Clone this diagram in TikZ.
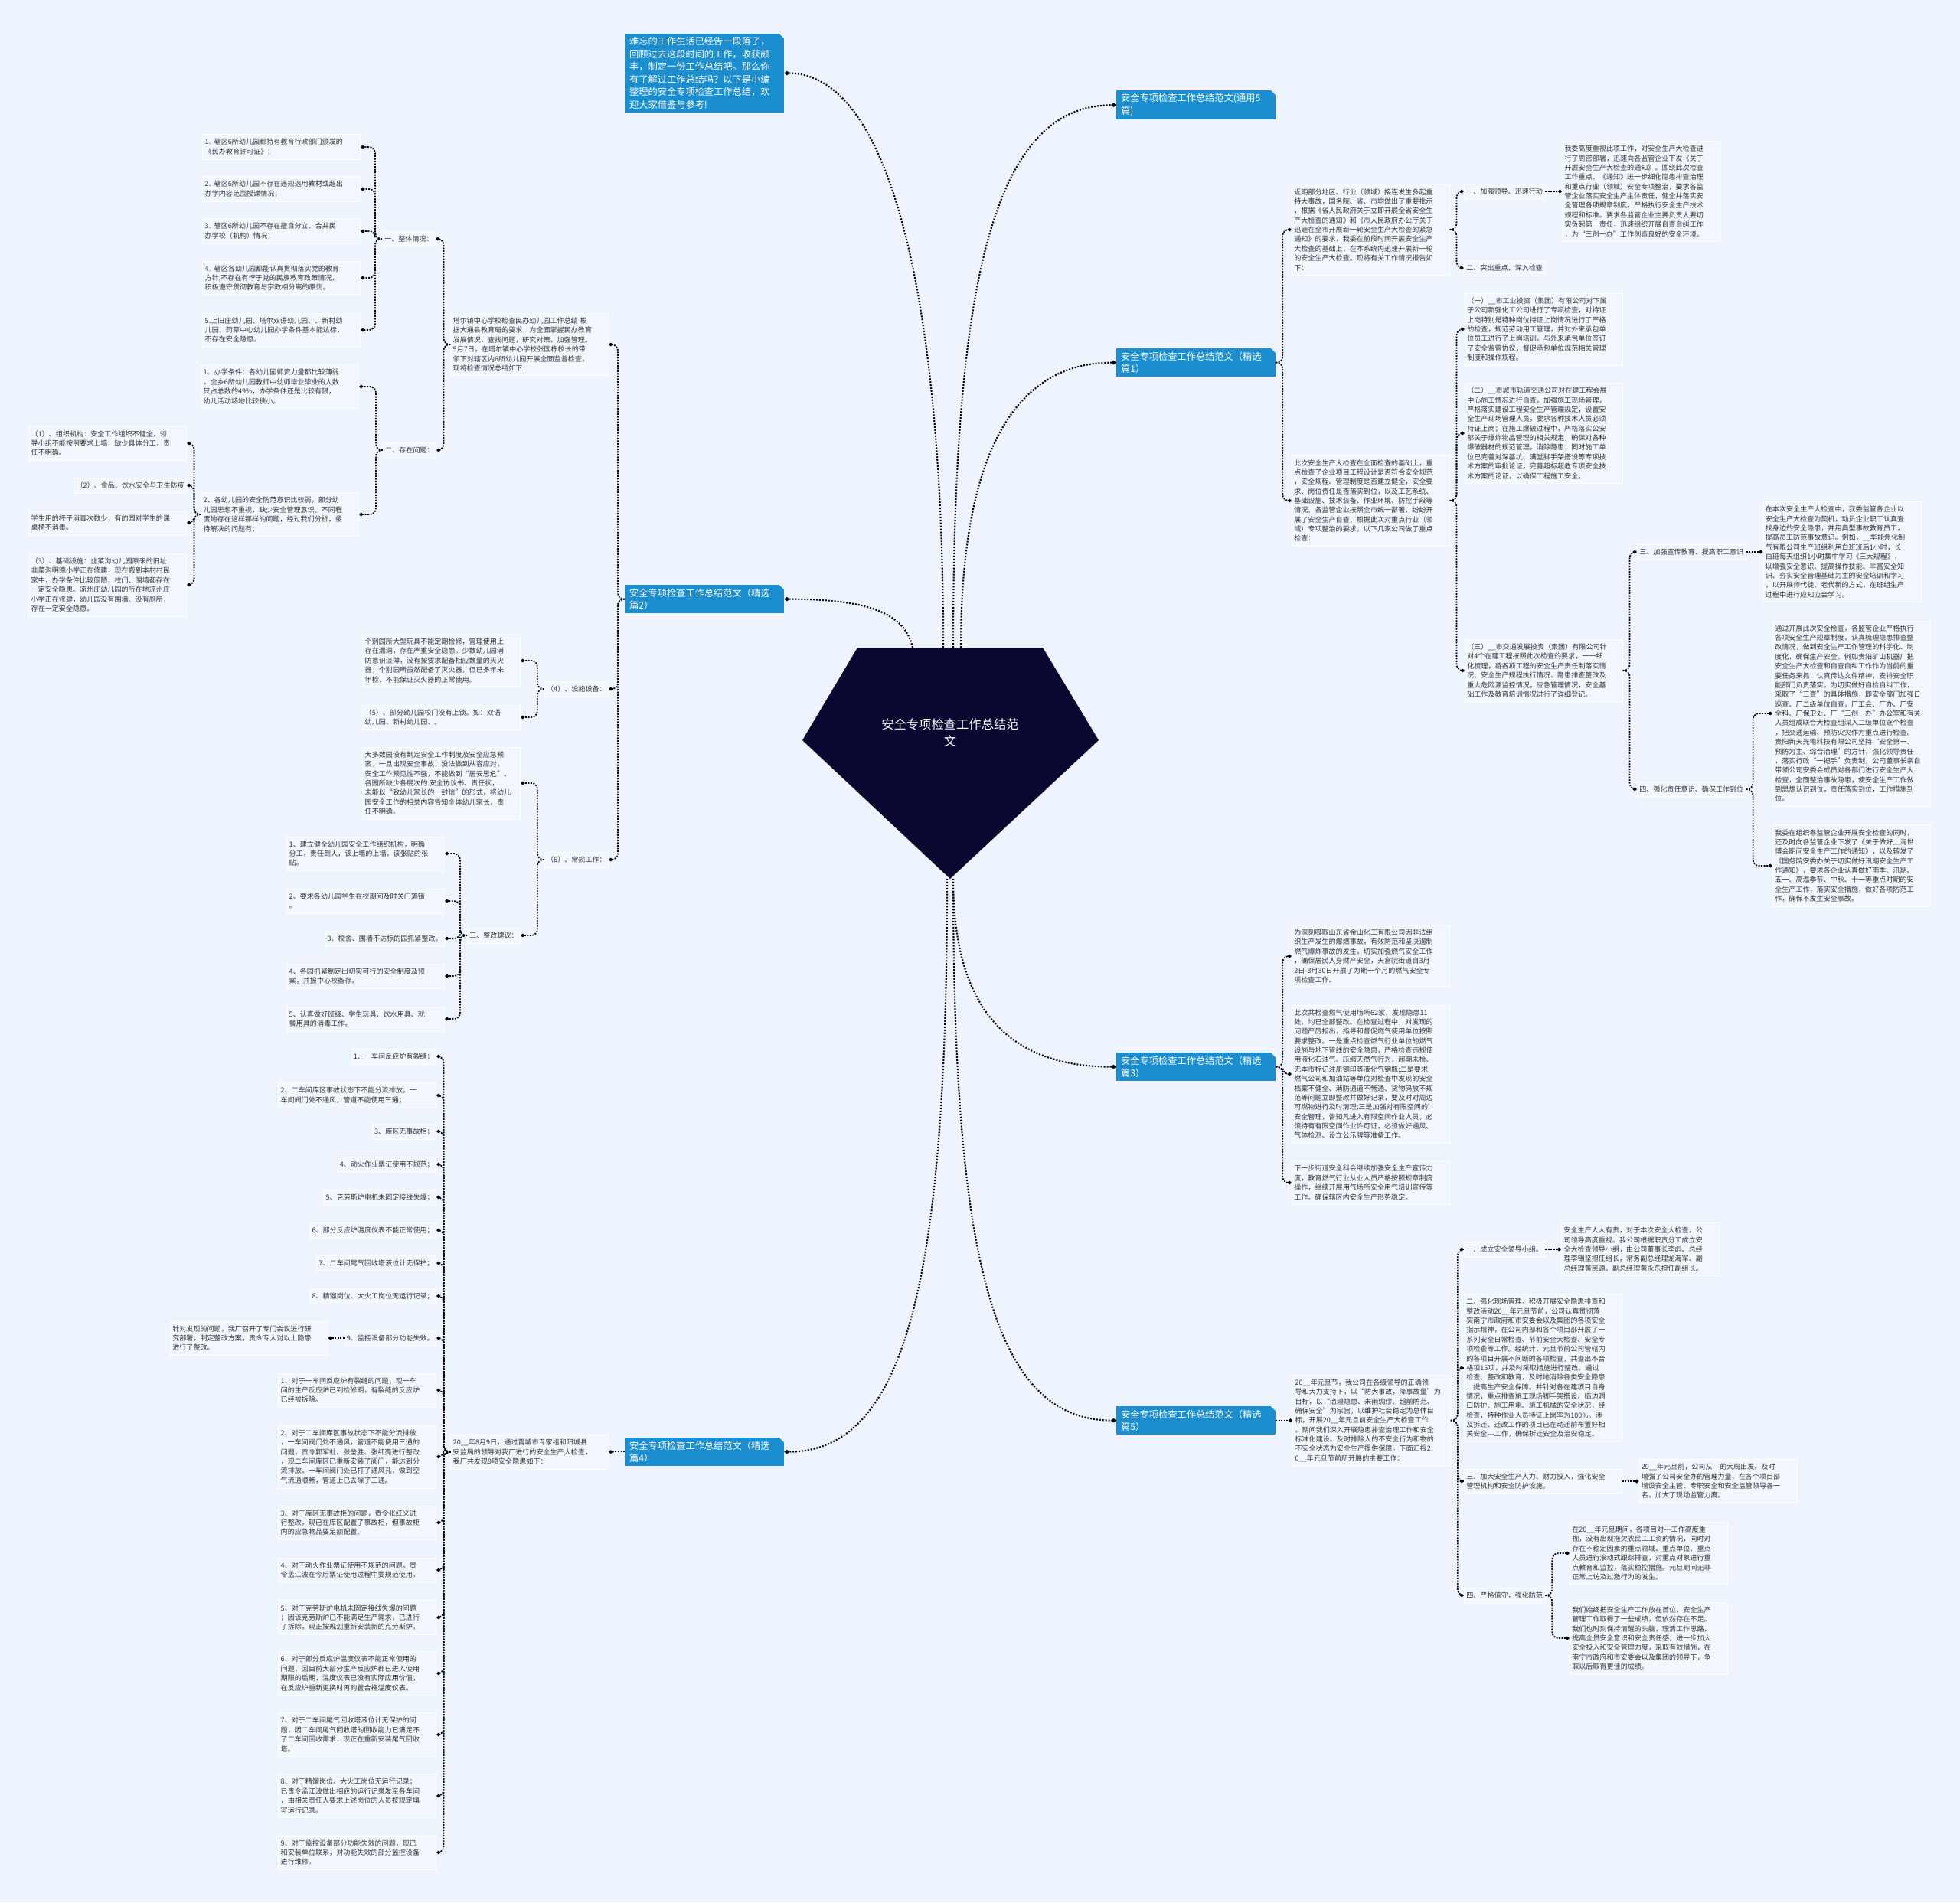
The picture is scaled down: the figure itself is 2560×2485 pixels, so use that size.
\documentclass[tikz,border=0pt]{standalone}
\usepackage{fontspec}
\setmainfont{Noto Sans CJK SC}
\usepackage{tikz}
\usetikzlibrary{arrows.meta,positioning}
\definecolor{BgMain}{RGB}{238,244,253}
\definecolor{LeafFill}{RGB}{242,247,254}
\definecolor{TopicBlue}{RGB}{27,142,208}
\definecolor{RootNavy}{RGB}{10,8,48}
\definecolor{TextGray}{RGB}{51,51,51}
\newcommand{\fsleaf}{\fontsize{12.9pt}{17.6pt}\selectfont}
\newcommand{\fstopic}{\fontsize{17.4pt}{23.5pt}\selectfont}
\newcommand{\fsroot}{\fontsize{23.2pt}{32pt}\selectfont}

\begin{document}
\begin{tikzpicture}[
  x=0.05cm, y=-0.05cm,
  topic/.style={
    rectangle, fill=TopicBlue, text=white, font=\fstopic, align=left,
    text width=9.8cm, inner xsep=0.3cm, inner ysep=0.22cm, anchor=north west,
    path picture={\fill[BgMain] ([xshift=-0.3cm]path picture bounding box.north east)
      -- (path picture bounding box.north east)
      -- ([yshift=-0.3cm]path picture bounding box.north east) -- cycle;}
  },
  leaf/.style={
    rectangle, fill=LeafFill, draw=white, line width=0.8pt, text=TextGray,
    font=\fsleaf, align=left, text width=10cm, inner xsep=0.15cm, inner ysep=0.28cm
  },
  tag/.style={
    rectangle, fill=LeafFill, draw=white, line width=0.8pt, text=TextGray,
    font=\fsleaf, align=left, inner xsep=0.15cm, inner ysep=0.28cm
  },
  rootnode/.style={text=white, font=\fsroot, align=center},
  mainlnk/.style={draw=black, line width=3pt, dash pattern=on 2.8pt off 2.8pt,
    -{Diamond[length=10pt,width=8pt]}},
  lnk/.style={draw=black, line width=2.4pt, dash pattern=on 2.8pt off 2.2pt,
    rounded corners=0.4cm, -{Diamond[length=8pt,width=7pt]}}
]

\fill[BgMain] (0,0) rectangle (2560,2485);
\useasboundingbox (0,0) rectangle (2560,2485);

% --- Root
\fill[RootNavy] (1120,846) -- (1362,846) -- (1435,967) -- (1241,1148) -- (1048,967) -- cycle;
\node[rootnode] (root) at (1241,957) {安全专项检查工作总结范\\文};
\coordinate (rt1) at (1192,846);
\coordinate (rt2) at (1232,846);
\coordinate (rt3) at (1245,846);
\coordinate (rt4) at (1255,846);
\coordinate (rb1) at (1237,1148);
\coordinate (rb2) at (1245,1148);

% --- Topics
\node[topic] (intro) at (816,44) {难忘的工作生活已经告一段落了，\\回顾过去这段时间的工作，收获颇\\丰，制定一份工作总结吧。那么你\\有了解过工作总结吗？以下是小编\\整理的安全专项检查工作总结，欢\\迎大家借鉴与参考!};
\node[topic] (t5a) at (1458,118) {安全专项检查工作总结范文(通用5\\篇)};
\node[topic] (t1) at (1458,455) {安全专项检查工作总结范文（精选\\篇1）};
\node[topic] (t2) at (816,764) {安全专项检查工作总结范文（精选\\篇2）};
\node[topic] (t3) at (1458,1375) {安全专项检查工作总结范文（精选\\篇3）};
\node[topic] (t4) at (816,1878) {安全专项检查工作总结范文（精选\\篇4）};
\node[topic] (t5b) at (1458,1837) {安全专项检查工作总结范文（精选\\篇5）};

\draw[mainlnk] (rt2) .. controls +(0,-450) and +(140,0) .. (intro.east);
\draw[mainlnk] (rt3) .. controls +(0,-480) and +(-160,0) .. (t5a.west);
\draw[mainlnk] (rt4) .. controls +(0,-220) and +(-150,0) .. (t1.west);
\draw[mainlnk] (rt1) .. controls +(-10,-45) and +(110,0) .. (t2.east);
\draw[mainlnk] (rb2) .. controls +(0,160) and +(-150,0) .. (t3.west);
\draw[mainlnk] (rb2) .. controls +(0,500) and +(-160,0) .. (t5b.west);
\draw[mainlnk] (rb1) .. controls +(0,520) and +(160,0) .. (t4.east);

% --- Part 2 (left)
\node[leaf, anchor=east] (p2) at (795,450) {塔尔镇中心学校检查民办幼儿园工作总结 根\\据大通县教育局的要求，为全面掌握民办教育\\发展情况，查找问题，研究对策，加强管理。\\5月7日，在塔尔镇中心学校张国栋校长的带\\领下对辖区内6所幼儿园开展全面监督检查，\\现将检查情况总结如下：};
\node[tag, anchor=east] (s21) at (569,312) {一、整体情况：};
\node[leaf, anchor=east] (a1) at (471,192) {1. 辖区6所幼儿园都持有教育行政部门颁发的\\《民办教育许可证》；};
\node[leaf, anchor=east] (a2) at (471,247) {2. 辖区6所幼儿园不存在违规选用教材或超出\\办学内容范围授课情况；};
\node[leaf, anchor=east] (a3) at (471,302) {3. 辖区6所幼儿园不存在擅自分立、合并民\\办学校（机构）情况；};
\node[leaf, anchor=east] (a4) at (471,363) {4. 辖区各幼儿园都能认真贯彻落实党的教育\\方针,不存在有悖于党的民族教育政策情况，\\积极遵守贯彻教育与宗教相分离的原则。};
\node[leaf, anchor=east] (a5) at (471,431) {5.上旧庄幼儿园、塔尔双语幼儿园、、新村幼\\儿园、药草中心幼儿园办学条件基本能达标，\\不存在安全隐患。};
\node[tag, anchor=east] (s22) at (570,588) {二、存在问题：};
\node[leaf, anchor=east] (b1) at (469,505) {1、办学条件：各幼儿园师资力量都比较薄弱\\，全乡6所幼儿园教师中幼师毕业毕业的人数\\只占总数的49\%，办学条件还是比较有限，\\幼儿活动场地比较狭小。};
\node[leaf, anchor=east] (b2) at (469,672) {2、各幼儿园的安全防范意识比较弱，部分幼\\儿园思想不重视，缺少安全管理意识，不同程\\度地存在这样那样的问题，经过我们分析，亟\\待解决的问题有：};
\node[leaf, anchor=east] (c1) at (244,579) {（1）、组织机构：安全工作组织不健全，领\\导小组不能按照要求上墙，缺少具体分工，责\\任不明确。};
\node[tag, anchor=east] (c2) at (244,634) {（2）、食品、饮水安全与卫生防疫};
\node[leaf, anchor=east] (c3) at (244,683) {学生用的杯子消毒次数少；有的园对学生的课\\桌椅不消毒。};
\node[leaf, anchor=east] (c4) at (244,764) {（3）、基础设施：韭菜沟幼儿园原来的旧址\\韭菜沟明德小学正在修建，现在搬到本村村民\\家中，办学条件比较简陋，校门、围墙都存在\\一定安全隐患。凉州庄幼儿园的所在地凉州庄\\小学正在修建，幼儿园没有围墙、没有厕所，\\存在一定安全隐患。};
\node[tag, anchor=east] (s23) at (795,900) {（4）、设施设备：};
\node[leaf, anchor=east] (d1) at (680,863) {个别园所大型玩具不能定期检修，管理使用上\\存在漏洞，存在严重安全隐患。少数幼儿园消\\防意识淡薄，没有按要求配备相应数量的灭火\\器；个别园所虽然配备了灭火器，但已多年未\\年检，不能保证灭火器的正常使用。};
\node[leaf, anchor=east] (d2) at (680,937) {（5）、部分幼儿园校门没有上锁。如：双语\\幼儿园、新村幼儿园、。};
\node[tag, anchor=east] (s24) at (795,1123) {（6）、常规工作：};
\node[leaf, anchor=east] (e1) at (680,1023) {大多数园没有制定安全工作制度及安全应急预\\案，一旦出现安全事故，没法做到从容应对，\\安全工作预见性不强，不能做到“居安思危”。\\各园所缺少各层次的.安全协议书、责任状，\\未能以“致幼儿家长的一封信”的形式，将幼儿\\园安全工作的相关内容告知全体幼儿家长，责\\任不明确。};
\node[tag, anchor=east] (s25) at (680,1222) {三、整改建议：};
\node[leaf, anchor=east] (f1) at (581,1115) {1、建立健全幼儿园安全工作组织机构，明确\\分工，责任到人，该上墙的上墙，该张贴的张\\贴。};
\node[leaf, anchor=east] (f2) at (581,1177) {2、要求各幼儿园学生在校期间及时关门落锁\\。};
\node[tag, anchor=east] (f3) at (581,1226) {3、校舍、围墙不达标的园抓紧整改。};
\node[leaf, anchor=east] (f4) at (581,1275) {4、各园抓紧制定出切实可行的安全制度及预\\案，并报中心校备存。};
\node[leaf, anchor=east] (f5) at (581,1331) {5、认真做好班级、学生玩具、饮水用具、就\\餐用具的消毒工作。};

\draw[lnk] (t2.west) -- ++(-9,0) |- (p2.east);
\draw[lnk] (t2.west) -- ++(-9,0) |- (s23.east);
\draw[lnk] (t2.west) -- ++(-9,0) |- (s24.east);
\draw[lnk] (p2.west) -- ++(-9,0) |- (s21.east);
\draw[lnk] (p2.west) -- ++(-9,0) |- (s22.east);
\foreach \n in {a1,a2,a3,a4,a5}
  \draw[lnk] (s21.west) -- ++(-9,0) |- (\n.east);
\foreach \n in {b1,b2}
  \draw[lnk] (s22.west) -- ++(-9,0) |- (\n.east);
\foreach \n in {c1,c2,c3,c4}
  \draw[lnk] (b2.west) -- ++(-9,0) |- (\n.east);
\foreach \n in {d1,d2}
  \draw[lnk] (s23.west) -- ++(-9,0) |- (\n.east);
\foreach \n in {e1,s25}
  \draw[lnk] (s24.west) -- ++(-9,0) |- (\n.east);
\foreach \n in {f1,f2,f3,f4,f5}
  \draw[lnk] (s25.west) -- ++(-9,0) |- (\n.east);

% --- Part 4 (left)
\node[leaf, left=1.05cm of t4] (p4) {20\_\_年8月9日，通过晋城市专家组和阳城县\\安监局的领导对我厂进行的安全生产大检查，\\我厂共发现9项安全隐患如下：};
\node[tag, anchor=east] (m1) at (570,1380) {1、一车间反应炉有裂缝；};
\node[leaf, anchor=east] (m2) at (570,1431) {2、二车间库区事故状态下不能分流排放，一\\车间阀门处不通风，管道不能使用三通；};
\node[tag, anchor=east] (m3) at (570,1478) {3、库区无事故柜；};
\node[tag, anchor=east] (m4) at (570,1521) {4、动火作业票证使用不规范；};
\node[tag, anchor=east] (m5) at (570,1564) {5、克劳斯炉电机未固定接线失爆；};
\node[tag, anchor=east] (m6) at (570,1607) {6、部分反应炉温度仪表不能正常使用；};
\node[tag, anchor=east] (m7) at (570,1650) {7、二车间尾气回收塔液位计无保护；};
\node[tag, anchor=east] (m8) at (570,1693) {8、精馏岗位、大火工岗位无运行记录；};
\node[tag, anchor=east] (m9) at (570,1748) {9、监控设备部分功能失效。};
\node[leaf, left=1.05cm of m9] (m9a) {针对发现的问题，我厂召开了专门会议进行研\\究部署，制定整改方案，责令专人对以上隐患\\进行了整改。};
\node[leaf, anchor=east] (n1) at (570,1816) {1、对于一车间反应炉有裂缝的问题，现一车\\间的生产反应炉已到检修期，有裂缝的反应炉\\已经被拆除。};
\node[leaf, anchor=east] (n2) at (570,1903) {2、对于二车间库区事故状态下不能分流排放\\，一车间阀门处不通风，管道不能使用三通的\\问题，责令郭军社、张垒胜、张红亮进行整改\\，现二车间库区已重新安装了阀门，能达到分\\流排放，一车间阀门处已打了通风孔，做到空\\气流通顺畅，管道上已去除了三通。};
\node[leaf, anchor=east] (n3) at (570,1989) {3、对于库区无事故柜的问题，责令张红义进\\行整改，现已在库区配置了事故柜，但事故柜\\内的应急物品要足额配置。};
\node[leaf, anchor=east] (n4) at (570,2051) {4、对于动火作业票证使用不规范的问题，责\\令孟江波在今后票证使用过程中要规范使用。};
\node[leaf, anchor=east] (n5) at (570,2113) {5、对于克劳斯炉电机未固定接线失爆的问题\\；因该克劳斯炉已不能满足生产需求，已进行\\了拆除，现正按规划重新安装新的克劳斯炉。};
\node[leaf, anchor=east] (n6) at (570,2186) {6、对于部分反应炉温度仪表不能正常使用的\\问题，因目前大部分生产反应炉都已进入使用\\期限的后期，温度仪表已没有实际应用价值，\\在反应炉重新更换时再购置合格温度仪表。};
\node[leaf, anchor=east] (n7) at (570,2266) {7、对于二车间尾气回收塔液位计无保护的问\\题，因二车间尾气回收塔的回收能力已满足不\\了二车间回收需求，现正在重新安装尾气回收\\塔。};
\node[leaf, anchor=east] (n8) at (570,2346) {8、对于精馏岗位、大火工岗位无运行记录；\\已责令孟江波做出相应的运行记录发至各车间\\，由相关责任人要求上述岗位的人员按规定填\\写运行记录。};
\node[leaf, anchor=east] (n9) at (570,2420) {9、对于监控设备部分功能失效的问题，现已\\和安装单位联系，对功能失效的部分监控设备\\进行维修。};

\draw[lnk] (t4.west) -- (p4.east);
\foreach \n in {m1,m2,m3,m4,m5,m6,m7,m8,m9,n1,n2,n3,n4,n5,n6,n7,n8,n9}
  \draw[lnk] (p4.west) -- ++(-9,0) |- (\n.east);
\draw[lnk] (m9.west) -- (m9a.east);

% --- Part 1 (right)
\node[leaf, anchor=west] (r1) at (1687,300) {近期部分地区、行业（领域）接连发生多起重\\特大事故，国务院、省、市均做出了重要批示\\，根据《省人民政府关于立即开展全省安全生\\产大检查的通知》和《市人民政府办公厅关于\\迅速在全市开展新一轮安全生产大检查的紧急\\通知》的要求，我委在前段时间开展安全生产\\大检查的基础上，在本系统内迅速开展新一轮\\的安全生产大检查。现将有关工作情况报告如\\下：};
\node[tag, anchor=west] (r1a) at (1912,250) {一、加强领导、迅速行动};
\node[leaf, right=1.1cm of r1a] (r1a1) {我委高度重视此项工作，对安全生产大检查进\\行了周密部署，迅速向各监管企业下发《关于\\开展安全生产大检查的通知》。围绕此次检查\\工作重点，《通知》进一步细化隐患排查治理\\和重点行业（领域）安全专项整治，要求各监\\管企业落实安全生产主体责任，健全并落实安\\全管理各项规章制度，严格执行安全生产技术\\规程和标准。要求各监管企业主要负责人要切\\实负起第一责任，迅速组织开展自查自纠工作\\，为“三创一办”工作创造良好的安全环境。};
\node[tag, anchor=west] (r1b) at (1912,350) {二、突出重点、深入检查};
\node[leaf, anchor=west] (r2) at (1687,654) {此次安全生产大检查在全面检查的基础上，重\\点检查了企业项目工程设计是否符合安全规范\\，安全规程、管理制度是否建立健全，安全要\\求、岗位责任是否落实到位，以及工艺系统、\\基础设施、技术装备、作业环境、防控手段等\\情况。各监管企业按照全市统一部署，纷纷开\\展了安全生产自查，根据此次对重点行业（领\\域）专项整治的要求，以下几家公司做了重点\\检查：};
\node[leaf, anchor=west] (r2a) at (1913,430) {（一）\_\_市工业投资（集团）有限公司对下属\\子公司新强化工公司进行了专项检查，对持证\\上岗特别是特种岗位持证上岗情况进行了严格\\的检查，规范劳动用工管理，并对外来承包单\\位员工进行了上岗培训，与外来承包单位签订\\了安全监管协议，督促承包单位规范相关管理\\制度和操作规程。};
\node[leaf, anchor=west] (r2b) at (1913,566) {（二）\_\_市城市轨道交通公司对在建工程会展\\中心施工情况进行自查，加强施工现场管理，\\严格落实建设工程安全生产管理规定，设置安\\全生产现场管理人员，要求各种技术人员必须\\持证上岗；在施工爆破过程中，严格落实公安\\部关于爆炸物品管理的相关规定，确保对各种\\爆破器材的规范管理，消除隐患；同时施工单\\位已完善对深基坑、满堂脚手架搭设等专项技\\术方案的审批论证，完善超标超危专项安全技\\术方案的论证，以确保工程施工安全。};
\node[leaf, anchor=west] (r2c) at (1913,876) {（三）\_\_市交通发展投资（集团）有限公司针\\对4个在建工程按照此次检查的要求，一一细\\化梳理，将各项工程的安全生产责任制落实情\\况、安全生产规程执行情况、隐患排查整改及\\重大危险源监控情况，应急管理情况，安全基\\础工作及教育培训情况进行了详细登记。};
\node[tag, anchor=west] (r3) at (2138,721) {三、加强宣传教育、提高职工意识};
\node[leaf, right=1.1cm of r3] (r3a) {在本次安全生产大检查中，我委监管各企业以\\安全生产大检查为契机，动员企业职工认真查\\找身边的安全隐患，并用典型事故教育员工，\\提高员工防范事故意识。例如，\_\_华能焦化制\\气有限公司生产班组利用白班班后1小时，长\\白班每天组织1小时集中学习《三大规程》，\\以增强安全意识、提高操作技能、丰富安全知\\识、夯实安全管理基础为主的安全培训和学习\\，以开展师代徒、老代新的方式，在班组生产\\过程中进行应知应会学习。};
\node[tag, anchor=west] (r4) at (2138,1031) {四、强化责任意识、确保工作到位};
\node[leaf, anchor=west] (r4a) at (2315,932) {通过开展此次安全检查，各监管企业严格执行\\各项安全生产规章制度，认真梳理隐患排查整\\改情况，做到安全生产工作管理的科学化、制\\度化，确保生产安全。例如贵阳矿山机器厂把\\安全生产大检查和自查自纠工作作为当前的重\\要任务来抓，认真传达文件精神，安排安全职\\能部门负责落实。为切实做好自检自纠工作，\\采取了“三查”的具体措施，即安全部门加强日\\巡查、厂二级单位自查，厂工会、厂办、厂安\\全科、厂保卫处、厂“三创一办”办公室和有关\\人员组成联合大检查组深入二级单位逐个检查\\，把交通运输、预防火灾作为重点进行检查。\\贵阳新天光电科技有限公司坚持“安全第一、\\预防为主、综合治理”的方针，强化领导责任\\，落实行政“一把手”负责制，公司董事长亲自\\带领公司安委会成员对各部门进行安全生产大\\检查，全面整治事故隐患，使安全生产工作做\\到思想认识到位，责任落实到位，工作措施到\\位。};
\node[leaf, anchor=west] (r4b) at (2315,1131) {我委在组织各监管企业开展安全检查的同时，\\还及时向各监管企业下发了《关于做好上海世\\博会期间安全生产工作的通知》，以及转发了\\《国务院安委办关于切实做好汛期安全生产工\\作通知》，要求各企业认真做好雨季、汛期、\\五一、高温季节、中秋、十一等重点时期的安\\全生产工作，落实安全措施，做好各项防范工\\作，确保不发生安全事故。};

\foreach \n in {r1,r2}
  \draw[lnk] (t1.east) -- ++(9,0) |- (\n.west);
\foreach \n in {r1a,r1b}
  \draw[lnk] (r1.east) -- ++(9,0) |- (\n.west);
\draw[lnk] (r1a.east) -- (r1a1.west);
\foreach \n in {r2a,r2b,r2c}
  \draw[lnk] (r2.east) -- ++(9,0) |- (\n.west);
\foreach \n in {r3,r4}
  \draw[lnk] (r2c.east) -- ++(9,0) |- (\n.west);
\draw[lnk] (r3.east) -- (r3a.west);
\foreach \n in {r4a,r4b}
  \draw[lnk] (r4.east) -- ++(9,0) |- (\n.west);

% --- Part 3 (right)
\node[leaf, anchor=west] (g1) at (1687,1249) {为深刻吸取山东省金山化工有限公司因非法组\\织生产发生的爆燃事故，有效防范和坚决遏制\\燃气爆炸事故的发生，切实加强燃气安全工作\\，确保居民人身财产安全，天宫院街道自3月\\2日-3月30日开展了为期一个月的燃气安全专\\项检查工作。};
\node[leaf, anchor=west] (g2) at (1687,1403) {此次共检查燃气使用场所62家，发现隐患11\\处，均已全部整改。在检查过程中，对发现的\\问题严厉指出，指导和督促燃气使用单位按照\\要求整改。一是重点检查燃气行业单位的燃气\\设施与地下管线的安全隐患，严格检查违规使\\用液化石油气、压缩天然气行为，超期未检、\\无本市标记注册钢印等液化气钢瓶;二是要求\\燃气公司和加油站等单位对检查中发现的安全\\档案不健全、消防通道不畅通、货物码放不规\\范等问题立即整改并做好记录，要及时对周边\\可燃物进行及时清理;三是加强对有限空间的'\\安全管理，告知凡进入有限空间作业人员，必\\须持有有限空间作业许可证，必须做好通风、\\气体检测、设立公示牌等准备工作。};
\node[leaf, anchor=west] (g3) at (1687,1545) {下一步街道安全科会继续加强安全生产宣传力\\度，教育燃气行业从业人员严格按照规章制度\\操作，继续开展用气场所安全用气培训宣传等\\工作。确保辖区内安全生产形势稳定。};

\foreach \n in {g1,g2,g3}
  \draw[lnk] (t3.east) -- ++(9,0) |- (\n.west);

% --- Part 5 (right)
\node[leaf, right=1.1cm of t5b] (h0) {20\_\_年元旦节，我公司在各级领导的正确领\\导和大力支持下，以“防大事故，降事故量”为\\目标，以“治理隐患、未雨绸缪、超前防范、\\确保安全”为宗旨，以维护社会稳定为总体目\\标，开展20\_\_年元旦前安全生产大检查工作\\。期间我们深入开展隐患排查治理工作和安全\\标准化建设。及时排除人的不安全行为和物的\\不安全状态为安全生产提供保障。下面汇报2\\0\_\_年元旦节前所开展的主要工作：};
\node[tag, anchor=west] (h1) at (1912,1632) {一、成立安全领导小组。};
\node[leaf, right=1.05cm of h1] (h1a) {安全生产人人有责，对于本次安全大检查，公\\司领导高度重视。我公司根据职责分工成立安\\全大检查领导小组，由公司董事长李彪、总经\\理李锡坚担任组长，常务副总经理龙海军、副\\总经理黄民源、副总经理黄永东担任副组长。};
\node[leaf, anchor=west] (h2) at (1912,1787) {二、强化现场管理，积极开展安全隐患排查和\\整改活动20\_\_年元旦节前，公司认真贯彻落\\实南宁市政府和市安委会以及集团的各项安全\\指示精神，在公司内部和各个项目部开展了一\\系列安全日常检查、节前安全大检查、安全专\\项检查等工作。经统计，元旦节前公司管辖内\\的各项目开展不间断的各项检查，共查出不合\\格项15项，并及时采取措施进行整改。通过\\检查、整改和教育，及时地消除各类安全隐患\\，提高生产安全保障。并针对各在建项目自身\\情况，重点排查施工现场脚手架搭设、临边洞\\口防护、施工用电、施工机械的安全状况，经\\检查，特种作业人员持证上岗率为100\%。涉\\及拆迁、迁改工作的项目已在动迁前布置好相\\关安全-{}-{}-工作，确保拆迁安全及治安稳定。};
\node[leaf, anchor=west] (h3) at (1912,1935) {三、加大安全生产人力、财力投入，强化安全\\管理机构和安全防护设施。};
\node[leaf, right=1.1cm of h3] (h3a) {20\_\_年元旦前，公司从-{}-{}-的大局出发。及时\\增强了公司安全办的管理力量，在各个项目部\\增设安全主管、专职安全和安全监管领导各一\\名，加大了现场监管力度。};
\node[tag, anchor=west] (h4) at (1912,2084) {四、严格值守，强化防范};
\node[leaf, anchor=west] (h4a) at (2050,2029) {在20\_\_年元旦期间，各项目对-{}-{}-工作高度重\\视，没有出现拖欠农民工工资的情况，同时对\\存在不稳定因素的重点领域、重点单位、重点\\人员进行滚动式跟踪排查，对重点对象进行重\\点教育和监控，落实稳控措施。元旦期间无非\\正常上访及过激行为的发生。};
\node[leaf, anchor=west] (h4b) at (2050,2140) {我们始终把安全生产工作放在首位，安全生产\\管理工作取得了一些成绩，但依然存在不足。\\我们也时刻保持清醒的头脑，理清工作思路，\\提高全员安全意识和安全责任感，进一步加大\\安全投入和安全管理力度，采取有效措施，在\\南宁市政府和市安委会以及集团的领导下，争\\取以后取得更佳的成绩。};

\draw[lnk] (t5b.east) -- (h0.west);
\foreach \n in {h1,h2,h3,h4}
  \draw[lnk] (h0.east) -- ++(9,0) |- (\n.west);
\draw[lnk] (h1.east) -- (h1a.west);
\draw[lnk] (h3.east) -- (h3a.west);
\foreach \n in {h4a,h4b}
  \draw[lnk] (h4.east) -- ++(9,0) |- (\n.west);

\end{tikzpicture}
\end{document}
